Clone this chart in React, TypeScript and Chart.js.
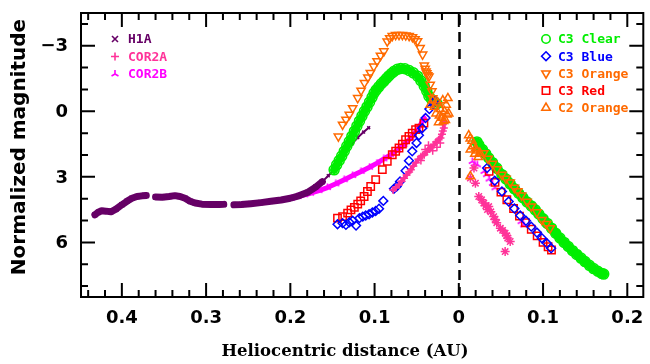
import React, { useEffect, useRef } from 'react';
import { Chart, registerables } from 'chart.js';

Chart.register(...registerables);

type Pt = [number, number | null];

// Heliocentric distance in AU (negative = before perihelion, shown as absolute value)
const xMajorTicks = [-0.4, -0.3, -0.2, -0.1, 0, 0.1, 0.2];
const xTickLabels = ['0.4', '0.3', '0.2', '0.1', '0', '0.1', '0.2'];
const xMinorTicks = [-0.44, -0.42, -0.38, -0.36, -0.34, -0.32, -0.28, -0.26, -0.24, -0.22, -0.18, -0.16, -0.14, -0.12, -0.08, -0.06, -0.04, -0.02, 0.02, 0.04, 0.06, 0.08, 0.12, 0.14, 0.16, 0.18];
const yMajorTicks = [-3, 0, 3, 6];
const yTickLabels = ['\u22123', '0', '3', '6'];
const yMinorTicks = [-4, -2, -1, 1, 2, 4, 5, 7, 8];

const h1aPre: Pt[] = [
  [-0.432, 4.74], [-0.428, 4.62], [-0.424, 4.55], [-0.419, 4.57], [-0.413, 4.6], [-0.407, 4.48], [-0.4, 4.28], [-0.394, 4.12], [-0.388, 3.98], [-0.382, 3.9], [-0.376, 3.87], [-0.371, 3.85],
  [-0.366, null],
  [-0.36, 3.92], [-0.352, 3.93], [-0.344, 3.9], [-0.337, 3.86], [-0.331, 3.9], [-0.325, 3.98], [-0.319, 4.12], [-0.313, 4.2], [-0.305, 4.25], [-0.294, 4.27], [-0.285, 4.27], [-0.279, 4.26],
  [-0.273, null],
  [-0.267, 4.28], [-0.258, 4.27], [-0.247, 4.23], [-0.235, 4.18], [-0.223, 4.12], [-0.211, 4.06], [-0.2, 3.98], [-0.19, 3.87], [-0.18, 3.72], [-0.17, 3.47], [-0.162, 3.22],
];
const h1aNearPeak: Pt[] = [
  [-0.162, 3.22], [-0.155, 2.95], [-0.149, 2.72], [-0.142, 2.3], [-0.135, 1.9], [-0.127, 1.5], [-0.12, 1.2], [-0.113, 0.95], [-0.107, 0.75],
];

const cor2aPre: Pt[] = [
  [-0.078, 3.6], [-0.075, 3.5], [-0.071, 3.36], [-0.068, 3.2], [-0.065, 3.06], [-0.062, 2.92], [-0.059, 2.78], [-0.057, 2.68], [-0.054, 2.5], [-0.051, 2.35], [-0.048, 2.2], [-0.045, 2.08], [-0.043, 2.02], [-0.041, 1.99], [-0.038, 1.85], [-0.035, 1.72], [-0.033, 1.65], [-0.0296, 1.53], [-0.027, 1.4], [-0.024, 1.3], [-0.0218, 1.22], [-0.02, 1.05], [-0.019, 0.9], [-0.0178, 0.76], [-0.0178, 0.46],
];
const cor2aPreScatter: Pt[] = [
  [-0.019, 0.6], [-0.036, 1.55], [-0.031, 1.8], [-0.026, 1.65], [-0.04, 1.75], [-0.022, 1.45], [-0.045, 2.25],
];
const cor2aPost: Pt[] = [
  [0.0137, 3.06], [0.0197, 3.29], [0.018, 2.6], [0.0237, 3.9], [0.027, 4.05], [0.0296, 4.2], [0.032, 4.32], [0.0355, 4.36], [0.034, 4.5], [0.038, 4.6], [0.0414, 4.82], [0.043, 4.95], [0.045, 5.1], [0.0493, 5.35], [0.052, 5.45], [0.055, 5.58], [0.057, 5.7], [0.058, 5.8], [0.061, 5.96], [0.055, 6.42],
];

const cor2bPre: Pt[] = [
  [-0.199, 3.98], [-0.191, 3.9], [-0.183, 3.82], [-0.176, 3.75], [-0.166, 3.63], [-0.156, 3.49], [-0.146, 3.32], [-0.136, 3.13], [-0.126, 2.94], [-0.116, 2.75], [-0.106, 2.56], [-0.097, 2.37], [-0.089, 2.18], [-0.081, 1.99], [-0.073, 1.77], [-0.065, 1.53], [-0.057, 1.22], [-0.049, 0.84], [-0.045, 0.58], [-0.041, 0.31],
];
const cor2bPost: Pt[] = [
  [0.016, 2.3], [0.019, 2.4], [0.022, 2.45], [0.03, 2.75], [0.033, 2.9], [0.036, 3.1], [0.04, 3.3], [0.043, 3.5], [0.074, 5.05], [0.077, 5.2],
];

const c3ClearPre: Pt[] = [
  [-0.148, 2.68], [-0.145, 2.45], [-0.142, 2.25], [-0.139, 2.05], [-0.136, 1.83], [-0.133, 1.6], [-0.13, 1.38], [-0.127, 1.15], [-0.124, 0.92], [-0.121, 0.68], [-0.118, 0.45], [-0.115, 0.22], [-0.112, 0.0], [-0.109, -0.2], [-0.106, -0.42], [-0.103, -0.64], [-0.1006, -0.84], [-0.098, -0.98], [-0.095, -1.12], [-0.092, -1.26], [-0.0888, -1.38], [-0.086, -1.5], [-0.083, -1.62], [-0.08, -1.73], [-0.0769, -1.83], [-0.073, -1.92], [-0.069, -1.96], [-0.064, -1.95], [-0.059, -1.87], [-0.054, -1.76], [-0.049, -1.61], [-0.045, -1.4], [-0.041, -1.15], [-0.038, -0.92], [-0.0355, -0.69], [-0.0325, -0.55], [-0.0296, -0.46], [-0.026, -0.35],
];
const c3ClearPost: Pt[] = [
  [0.0215, 1.4], [0.0237, 1.53], [0.028, 1.75], [0.032, 1.95], [0.0355, 2.14], [0.04, 2.35], [0.045, 2.6], [0.0512, 2.9], [0.056, 3.1], [0.061, 3.32], [0.066, 3.55], [0.071, 3.75], [0.076, 3.95], [0.081, 4.15], [0.086, 4.33], [0.0907, 4.51], [0.095, 4.7], [0.1, 4.92], [0.105, 5.13], [0.11, 5.35], [0.115, 5.58], [0.12, 5.8], [0.125, 6.0], [0.13, 6.19], [0.135, 6.38], [0.14, 6.55], [0.145, 6.72], [0.1498, 6.88], [0.155, 7.05], [0.16, 7.2], [0.165, 7.32], [0.1696, 7.42], [0.172, 7.45],
];

const c3BluePre: Pt[] = [
  [-0.144, 5.17], [-0.138, 5.12], [-0.134, 5.2], [-0.13, 5.08], [-0.126, 5.01], [-0.122, 5.23], [-0.118, 4.89], [-0.114, 4.82], [-0.1105, 4.77], [-0.1065, 4.71], [-0.1026, 4.63], [-0.0987, 4.56], [-0.0947, 4.46], [-0.0896, 4.1], [-0.077, 3.55], [-0.0738, 3.44], [-0.0698, 3.21], [-0.0632, 2.72], [-0.0592, 2.26], [-0.0553, 1.83], [-0.0502, 1.45], [-0.0473, 1.1], [-0.0434, 0.77], [-0.0395, 0.31], [-0.035, -0.1], [-0.03, -0.4], [-0.028, -0.5],
];
const c3BluePost: Pt[] = [
  [0.0335, 2.6], [0.0426, 3.18], [0.0512, 3.67], [0.0592, 4.13], [0.066, 4.45], [0.0729, 4.77], [0.0797, 5.01], [0.086, 5.28], [0.0927, 5.55], [0.0986, 5.81], [0.1045, 6.04], [0.1096, 6.27],
];

const c3RedPre: Pt[] = [
  [-0.144, 4.89], [-0.138, 4.82], [-0.132, 4.66], [-0.128, 4.51], [-0.124, 4.4], [-0.12, 4.25], [-0.1165, 4.1], [-0.1124, 3.9], [-0.1085, 3.67], [-0.1046, 3.44], [-0.0987, 3.13], [-0.0908, 2.67], [-0.0849, 2.29], [-0.079, 1.99], [-0.075, 1.83], [-0.071, 1.68], [-0.067, 1.5], [-0.0632, 1.3], [-0.0592, 1.15], [-0.0553, 1.0], [-0.0513, 0.84], [-0.0473, 0.77], [-0.0414, 0.54],
];
const c3RedPost: Pt[] = [
  [0.036, 2.75], [0.043, 3.25], [0.05, 3.7], [0.057, 4.05], [0.065, 4.45], [0.072, 4.8], [0.079, 5.1], [0.086, 5.4], [0.093, 5.7], [0.1, 6.0], [0.106, 6.2], [0.11, 6.35],
];

const c3OrangePre: Pt[] = [
  [-0.143, 1.15], [-0.138, 0.61], [-0.134, 0.38], [-0.13, 0.15], [-0.126, -0.15], [-0.12, -0.61], [-0.116, -0.95], [-0.112, -1.3], [-0.108, -1.55], [-0.105, -1.76], [-0.101, -2.05], [-0.097, -2.3], [-0.093, -2.55], [-0.089, -2.75], [-0.085, -3.2], [-0.082, -3.35], [-0.079, -3.45], [-0.075, -3.5], [-0.071, -3.5], [-0.067, -3.5], [-0.063, -3.48], [-0.059, -3.45], [-0.055, -3.4], [-0.052, -3.3], [-0.049, -3.21], [-0.046, -2.9], [-0.043, -2.6], [-0.041, -2.1], [-0.04, -1.95], [-0.039, -1.83], [-0.038, -1.75], [-0.037, -1.65], [-0.0355, -1.6], [-0.034, -1.22], [-0.032, -0.92], [-0.031, -0.6],
];
const c3OrangePost: Pt[] = [
  [0.0296, 1.91], [0.0347, 2.17], [0.04, 2.4], [0.0452, 2.65], [0.0512, 2.9], [0.056, 3.08], [0.061, 3.25], [0.066, 3.5], [0.07, 3.65], [0.0745, 3.85], [0.081, 4.13], [0.086, 4.35], [0.0927, 4.62], [0.0986, 4.97], [0.104, 5.15], [0.1084, 5.35],
];

const c2OrangePre: Pt[] = [
  [-0.034, -0.3], [-0.031, -0.5], [-0.029, -0.2], [-0.027, 0.1], [-0.025, -0.4], [-0.023, 0.2], [-0.022, -0.1], [-0.02, 0.3], [-0.019, -0.5], [-0.017, 0.0], [-0.016, 0.4], [-0.015, -0.3], [-0.014, 0.15], [-0.013, -0.6], [-0.012, 0.1], [-0.018, 0.45], [-0.024, 0.5],
];
const c2OrangePost: Pt[] = [
  [0.0118, 1.1], [0.0135, 1.25], [0.0157, 1.35], [0.0137, 1.75], [0.017, 1.6], [0.019, 1.95], [0.021, 1.8], [0.023, 2.1], [0.02, 1.7], [0.0137, 2.98], [0.025, 1.9],
];

const COL_H1A = '#660066';
const COL_COR2A = '#ff3399';
const COL_COR2B = '#ff00ff';
const COL_CLEAR = '#00ee00';
const COL_BLUE = '#0000ff';
const COL_ORANGE = '#ff6a00';
const COL_RED = '#ff0000';

const leftLegend = [
  { label: 'H1A', color: COL_H1A, marker: 'x' },
  { label: 'COR2A', color: COL_COR2A, marker: '+' },
  { label: 'COR2B', color: COL_COR2B, marker: 'tri' },
];
const rightLegend = [
  { label: 'C3 Clear', color: COL_CLEAR, marker: 'circle' },
  { label: 'C3 Blue', color: COL_BLUE, marker: 'diamond' },
  { label: 'C3 Orange', color: COL_ORANGE, marker: 'down' },
  { label: 'C3 Red', color: COL_RED, marker: 'square' },
  { label: 'C2 Orange', color: COL_ORANGE, marker: 'up' },
];

const toXY = (arr: Pt[]) => arr.map(([x, y]) => ({ x, y }));

function makeTri(color: string, size: number) {
  const c = document.createElement('canvas');
  c.width = size; c.height = size;
  const g = c.getContext('2d')!;
  const m = size / 2;
  const r = size / 2 - 0.5;
  g.strokeStyle = color; g.lineWidth = 1.6;
  g.beginPath();
  g.moveTo(m, m); g.lineTo(m, m - r);
  g.moveTo(m, m); g.lineTo(m - r * 0.87, m + r * 0.5);
  g.moveTo(m, m); g.lineTo(m + r * 0.87, m + r * 0.5);
  g.stroke();
  return c;
}

function drawMarker(ctx: CanvasRenderingContext2D, kind: string, x: number, y: number, color: string) {
  ctx.save();
  ctx.strokeStyle = color; ctx.lineWidth = 1.6;
  ctx.beginPath();
  if (kind === 'x') { const r = 3; ctx.moveTo(x - r, y - r); ctx.lineTo(x + r, y + r); ctx.moveTo(x + r, y - r); ctx.lineTo(x - r, y + r); }
  else if (kind === '+') { const r = 4; ctx.moveTo(x - r, y); ctx.lineTo(x + r, y); ctx.moveTo(x, y - r); ctx.lineTo(x, y + r); }
  else if (kind === 'tri') { const r = 4; ctx.moveTo(x, y); ctx.lineTo(x, y - r); ctx.moveTo(x, y); ctx.lineTo(x - r * 0.87, y + r * 0.5); ctx.moveTo(x, y); ctx.lineTo(x + r * 0.87, y + r * 0.5); }
  else if (kind === 'circle') { ctx.arc(x, y, 4.2, 0, Math.PI * 2); }
  else if (kind === 'diamond') { const r = 4.4; ctx.moveTo(x, y - r); ctx.lineTo(x + r, y); ctx.lineTo(x, y + r); ctx.lineTo(x - r, y); ctx.closePath(); }
  else if (kind === 'square') { const r = 3.7; ctx.rect(x - r, y - r, 2 * r, 2 * r); }
  else if (kind === 'down') { const r = 4.8; ctx.moveTo(x - r * 0.87, y - r * 0.5); ctx.lineTo(x + r * 0.87, y - r * 0.5); ctx.lineTo(x, y + r); ctx.closePath(); }
  else if (kind === 'up') { const r = 4.8; ctx.moveTo(x - r * 0.87, y + r * 0.5); ctx.lineTo(x + r * 0.87, y + r * 0.5); ctx.lineTo(x, y - r); ctx.closePath(); }
  ctx.stroke();
  ctx.restore();
}

const decorPlugin = {
  id: 'decor',
  beforeDatasetsDraw(chart: any) {
    const { ctx, chartArea: a, scales } = chart;
    const px = Math.round(scales.x.getPixelForValue(0)) + 0.5;
    ctx.save();
    ctx.strokeStyle = '#000'; ctx.lineWidth = 2.5; ctx.setLineDash([10, 7]);
    ctx.beginPath(); ctx.moveTo(px, a.top + 2); ctx.lineTo(px, a.bottom); ctx.stroke();
    ctx.restore();
  },
  afterDraw(chart: any) {
    const { ctx, chartArea: a, scales } = chart;
    const xs = scales.x, ys = scales.y;
    ctx.save();
    ctx.strokeStyle = '#000'; ctx.lineWidth = 2;
    ctx.strokeRect(a.left, a.top, a.right - a.left, a.bottom - a.top);
    ctx.beginPath();
    const MAJ = 14, MIN = 7;
    xMajorTicks.forEach(v => { const p = xs.getPixelForValue(v); ctx.moveTo(p, a.bottom); ctx.lineTo(p, a.bottom - MAJ); ctx.moveTo(p, a.top); ctx.lineTo(p, a.top + MAJ); });
    xMinorTicks.forEach(v => { const p = xs.getPixelForValue(v); ctx.moveTo(p, a.bottom); ctx.lineTo(p, a.bottom - MIN); ctx.moveTo(p, a.top); ctx.lineTo(p, a.top + MIN); });
    yMajorTicks.forEach(v => { const p = ys.getPixelForValue(v); ctx.moveTo(a.left, p); ctx.lineTo(a.left + MAJ, p); ctx.moveTo(a.right, p); ctx.lineTo(a.right - MAJ, p); });
    yMinorTicks.forEach(v => { const p = ys.getPixelForValue(v); ctx.moveTo(a.left, p); ctx.lineTo(a.left + MIN, p); ctx.moveTo(a.right, p); ctx.lineTo(a.right - MIN, p); });
    ctx.stroke();

    ctx.fillStyle = '#000';
    ctx.font = 'bold 18px "DejaVu Sans"';
    ctx.textBaseline = 'middle';
    ctx.textAlign = 'center';
    xMajorTicks.forEach((v, i) => ctx.fillText(xTickLabels[i], xs.getPixelForValue(v), a.bottom + 21));
    ctx.textAlign = 'right';
    yMajorTicks.forEach((v, i) => ctx.fillText(yTickLabels[i], a.left - 13, ys.getPixelForValue(v) + 1));

    ctx.textAlign = 'center';
    ctx.font = 'bold 16.5px "DejaVu Serif"';
    ctx.fillText('Heliocentric distance (AU)', 345, 352);
    ctx.save();
    ctx.translate(20, 147);
    ctx.rotate(-Math.PI / 2);
    ctx.font = 'bold 20px "DejaVu Sans"';
    ctx.fillText('Normalized magnitude', 0, 0);
    ctx.restore();

    ctx.font = 'bold 13px "DejaVu Sans Mono"';
    ctx.textAlign = 'left';
    leftLegend.forEach((e, i) => {
      const y = 39 + i * 17.5;
      drawMarker(ctx, e.marker, 115, y, e.color);
      ctx.fillStyle = e.color; ctx.fillText(e.label, 128, y + 1);
    });
    rightLegend.forEach((e, i) => {
      const y = 39 + i * 17.2;
      drawMarker(ctx, e.marker, 546, y, e.color);
      ctx.fillStyle = e.color; ctx.fillText(e.label, 558, y + 1);
    });
    ctx.restore();
  },
};

const hollow = 'rgba(0,0,0,0)';
function markers(arr: Pt[], style: any, radius: number, color: string, extra: any = {}) {
  return { data: toXY(arr), pointStyle: style, pointRadius: radius, borderColor: color, backgroundColor: hollow, borderWidth: 1.5, showLine: false, ...extra };
}
function band(arr: Pt[], width: number, color: string) {
  return { data: toXY(arr), pointRadius: 0, borderColor: color, backgroundColor: color, borderWidth: width, showLine: true, spanGaps: false, tension: 0, borderCapStyle: 'round', borderJoinStyle: 'round' };
}

export default function App() {
  const ref = useRef<HTMLCanvasElement>(null);
  useEffect(() => {
    document.body.style.margin = '0';
    const triImg = makeTri(COL_COR2B, 9);
    const chart = new Chart(ref.current!, {
      type: 'scatter',
      data: {
        datasets: [
          markers(c2OrangePre, 'triangle', 4.8, COL_ORANGE),
          markers(c2OrangePost, 'triangle', 4.8, COL_ORANGE),
          markers(c3OrangePre, 'triangle', 4.8, COL_ORANGE, { pointRotation: 180 }),
          markers(c3OrangePost, 'triangle', 4.8, COL_ORANGE, { pointRotation: 180 }),
          markers(cor2aPre, 'cross', 4, COL_COR2A),
          markers(cor2aPreScatter, 'cross', 4, COL_COR2A),
          band(cor2aPre, 4, COL_COR2A),
          markers(cor2aPost, 'star', 4.5, COL_COR2A),
          markers(c3BluePre, 'rectRot', 4.4, COL_BLUE),
          markers(c3BluePost, 'rectRot', 4.4, COL_BLUE),
          markers(c3RedPre, 'rect', 5.2, COL_RED),
          markers(c3RedPost, 'rect', 5.2, COL_RED),
          markers(c3ClearPre, 'circle', 5, COL_CLEAR),
          markers(c3ClearPost, 'circle', 5, COL_CLEAR),
          band(c3ClearPre, 8, COL_CLEAR),
          band(c3ClearPost, 9, COL_CLEAR),
          markers(h1aPre, 'crossRot', 3.5, COL_H1A),
          markers(h1aNearPeak, 'crossRot', 2, COL_H1A),
          band(h1aPre, 7, COL_H1A),
          band(h1aNearPeak, 2, COL_H1A),
          markers(cor2bPre, triImg, 4, COL_COR2B),
          band(cor2bPre, 5, COL_COR2B),
          markers(cor2bPost, triImg, 4, COL_COR2B),
        ] as any,
      },
      options: {
        responsive: false,
        animation: false,
        devicePixelRatio: 1,
        layout: { padding: { left: 81, top: 13, right: 4, bottom: 67 } },
        plugins: { legend: { display: false }, tooltip: { enabled: false } },
        scales: {
          x: { type: 'linear', min: -0.4485, max: 0.219, display: false },
          y: { type: 'linear', min: -4.5, max: 8.5, reverse: true, display: false },
        },
      },
      plugins: [decorPlugin],
    });
    return () => chart.destroy();
  }, []);
  return (
    <div style={{ width: 650, height: 364 }}>
      <canvas ref={ref} width={650} height={364} style={{ display: 'block' }} />
    </div>
  );
}
